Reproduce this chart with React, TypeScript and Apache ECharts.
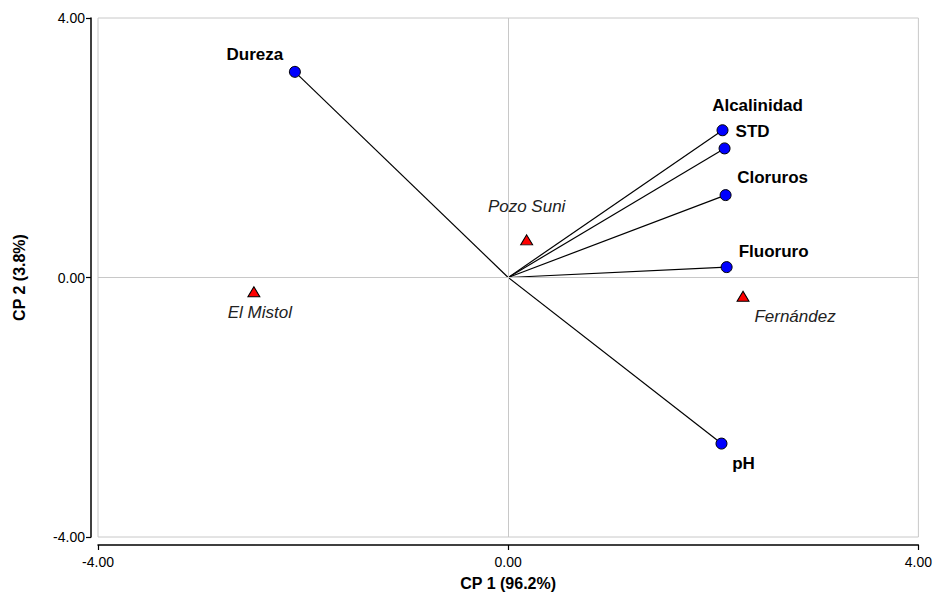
import React, { useEffect, useRef } from "react";
import * as echarts from "echarts";

// Variable loadings (CP 1, CP 2)
const variableNames = ["Dureza", "Alcalinidad", "STD", "Cloruros", "Fluoruro", "pH"];
const variableCP1 = [-2.08, 2.09, 2.11, 2.12, 2.13, 2.08];
const variableCP2 = [3.17, 2.27, 1.99, 1.27, 0.16, -2.56];

// Site scores (CP 1, CP 2)
const siteNames = ["Pozo Suni", "El Mistol", "Fernández"];
const siteCP1 = [0.18, -2.48, 2.29];
const siteCP2 = [0.58, -0.22, -0.29];

const axisTicks = [-4, 0, 4];
const xTitle = "CP 1 (96.2%)";
const yTitle = "CP 2 (3.8%)";

// Label placement relative to each marker centre (px)
const labelOffsets: Record<string, [number, number]> = {
  Dureza: [-40, -17],
  Alcalinidad: [35, -25],
  STD: [28, -17],
  Cloruros: [47, -18],
  Fluoruro: [47, -16],
  pH: [22, 20],
  "Pozo Suni": [0, -33],
  "El Mistol": [6, 21],
  "Fernández": [52, 20],
};

const FONT = "Arial, 'Liberation Sans', Helvetica, sans-serif";

export default function App() {
  const ref = useRef<HTMLDivElement>(null);

  useEffect(() => {
    if (!ref.current) return;
    const chart = echarts.init(ref.current, undefined, { renderer: "svg" });

    const vectorSeries = variableNames.map((n, i) => ({
      name: n + "-vector",
      type: "line",
      data: [
        [0, 0],
        [variableCP1[i], variableCP2[i]],
      ],
      symbol: "none",
      lineStyle: { color: "#000", width: 1.2 },
      z: 3,
      silent: true,
    }));

    const axisMin = axisTicks[0];
    const axisMax = axisTicks[axisTicks.length - 1];
    const axisStep = axisTicks[1] - axisTicks[0];

    const tickLabel = {
      fontFamily: FONT,
      fontSize: 14,
      color: "#000",
      formatter: (v: number) => v.toFixed(2),
    };

    chart.setOption({
      animation: false,
      backgroundColor: "#fff",
      grid: {
        left: 98,
        right: 15,
        top: 18,
        bottom: 62,
        show: true,
        borderColor: "#c8c8c8",
        borderWidth: 1,
        backgroundColor: "#fff",
      },
      xAxis: {
        type: "value",
        min: axisMin,
        max: axisMax,
        interval: axisStep,
        offset: 8,
        axisLine: { show: true, onZero: false, lineStyle: { color: "#000", width: 1.5 } },
        axisTick: { show: true, length: 5, lineStyle: { color: "#000", width: 1.2 } },
        axisLabel: { ...tickLabel, margin: 10 },
        splitLine: { show: false },
        name: xTitle,
        nameLocation: "middle",
        nameGap: 30,
        nameTextStyle: { fontFamily: FONT, fontSize: 16, fontWeight: "bold", color: "#000" },
      },
      yAxis: {
        type: "value",
        min: axisMin,
        max: axisMax,
        interval: axisStep,
        offset: 7,
        axisLine: { show: true, onZero: false, lineStyle: { color: "#000", width: 1.5 } },
        axisTick: { show: true, length: 5, lineStyle: { color: "#000", width: 1.2 } },
        axisLabel: { ...tickLabel, margin: 6 },
        splitLine: { show: false },
        name: yTitle,
        nameLocation: "middle",
        nameGap: 64,
        nameTextStyle: { fontFamily: FONT, fontSize: 16, fontWeight: "bold", color: "#000" },
      },
      series: [
        {
          name: "zero",
          type: "line",
          data: [],
          silent: true,
          z: 1,
          markLine: {
            silent: true,
            symbol: "none",
            label: { show: false },
            lineStyle: { color: "#c8c8c8", width: 1, type: "solid" },
            data: [{ xAxis: 0 }, { yAxis: 0 }],
          },
        },
        ...vectorSeries,
        {
          name: "variables",
          type: "scatter",
          symbol: "circle",
          symbolSize: 11,
          z: 5,
          itemStyle: { color: "#0000ff", borderColor: "#000", borderWidth: 1, opacity: 1 },
          data: variableNames.map((n, i) => ({
            name: n,
            value: [variableCP1[i], variableCP2[i]],
            label: { offset: labelOffsets[n] },
          })),
          label: {
            show: true,
            position: "inside",
            formatter: "{b}",
            fontFamily: FONT,
            fontSize: 17,
            fontWeight: "bold",
            color: "#000",
          },
        },
        {
          name: "sites",
          type: "scatter",
          symbol: "triangle",
          symbolSize: [12, 10],
          z: 5,
          itemStyle: { color: "#ff0000", borderColor: "#000", borderWidth: 1, opacity: 1 },
          data: siteNames.map((n, i) => ({
            name: n,
            value: [siteCP1[i], siteCP2[i]],
            label: { offset: labelOffsets[n] },
          })),
          label: {
            show: true,
            position: "inside",
            formatter: "{b}",
            fontFamily: FONT,
            fontSize: 17,
            fontStyle: "italic",
            color: "#222",
          },
        },
      ],
    });

    return () => chart.dispose();
  }, []);

  return <div ref={ref} style={{ width: 935, height: 599, position: "absolute", left: 0, top: 0 }} />;
}
